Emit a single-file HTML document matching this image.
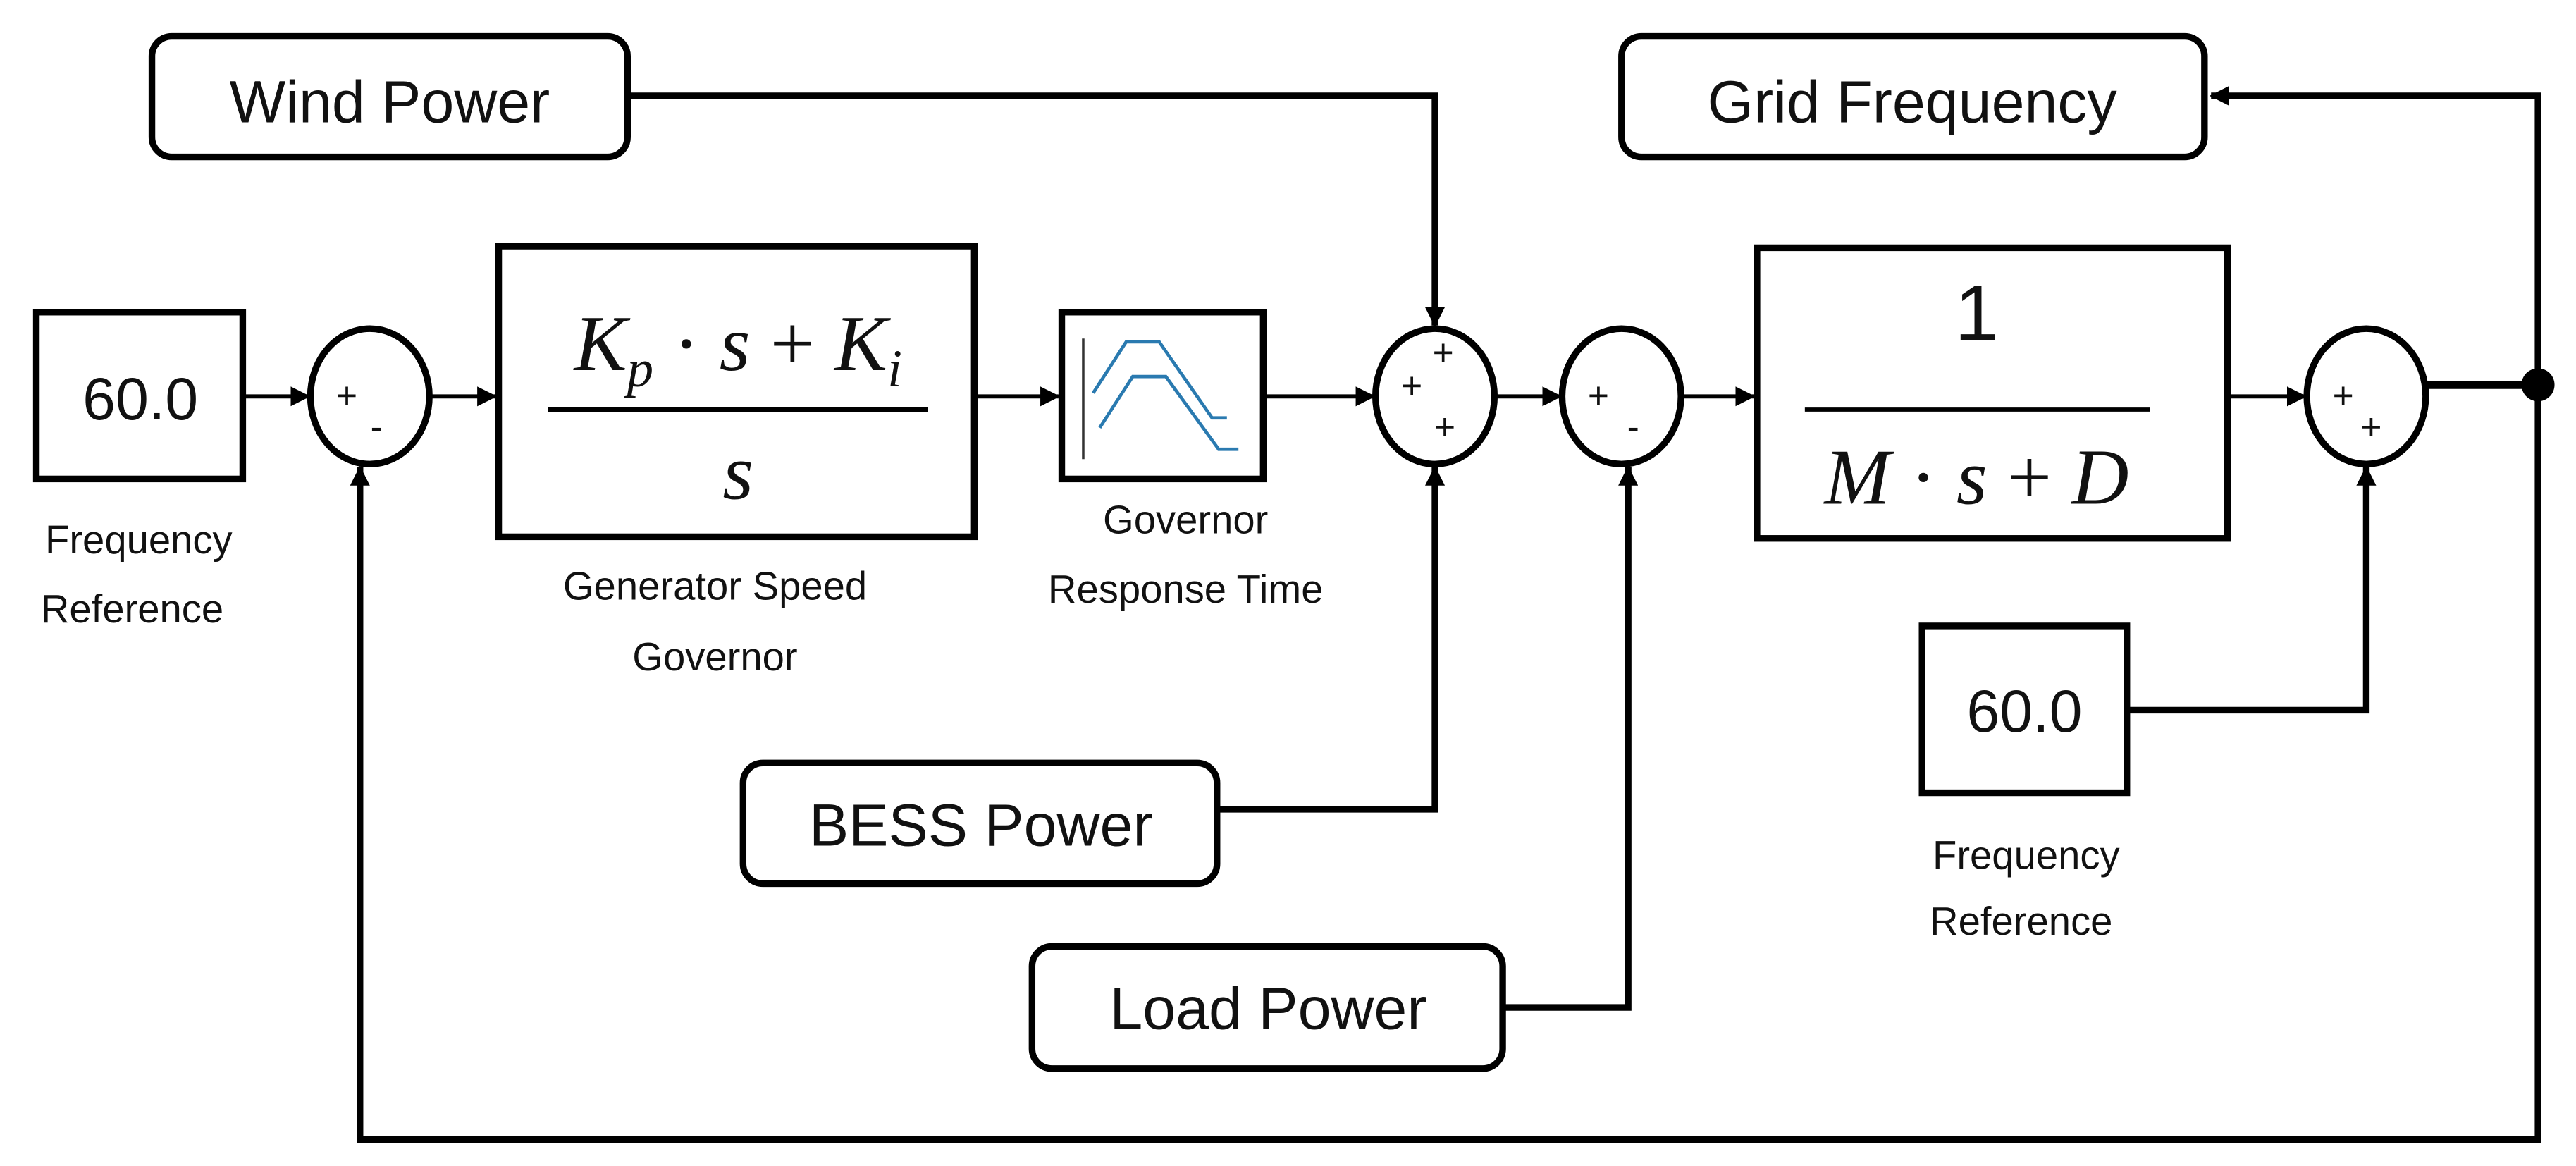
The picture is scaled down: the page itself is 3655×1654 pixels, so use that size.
<!DOCTYPE html>
<html><head><meta charset="utf-8"><style>
html,body{margin:0;padding:0;background:#fff;}
svg{display:block;}
text{font-family:"Liberation Sans",sans-serif;fill:#111;}
.m{font-family:"Liberation Serif",serif;font-style:italic;}
</style></head><body>
<svg width="3655" height="1654" viewBox="0 0 1560 706" preserveAspectRatio="none" xmlns="http://www.w3.org/2000/svg">
<defs>
<marker id="b" markerWidth="12" markerHeight="12" refX="11" refY="6" orient="auto" markerUnits="userSpaceOnUse">
<path d="M0,0 L12,6 L0,12 z" fill="#000"/></marker>
</defs>
<g fill="none" stroke="#000">
<rect x="92" y="22" width="288" height="73" rx="12" stroke-width="4"/>
<rect x="982" y="22" width="353" height="73" rx="12" stroke-width="4"/>
<rect x="450" y="462" width="287" height="73" rx="12" stroke-width="4"/>
<rect x="625" y="573" width="285" height="74" rx="12" stroke-width="4"/>
<rect x="22" y="189" width="125" height="101" stroke-width="4"/>
<rect x="302" y="149" width="288" height="176" stroke-width="4"/>
<rect x="643" y="189" width="122" height="101" stroke-width="4"/>
<rect x="1064" y="150" width="285" height="176" stroke-width="4"/>
<rect x="1164" y="379" width="124" height="101" stroke-width="4"/>
<ellipse cx="224" cy="240" rx="36" ry="41" stroke-width="4"/>
<ellipse cx="869" cy="240" rx="36" ry="41" stroke-width="4"/>
<ellipse cx="982" cy="240" rx="36" ry="41" stroke-width="4"/>
<ellipse cx="1433" cy="240" rx="36" ry="41" stroke-width="4"/>
<line x1="332" y1="248" x2="562" y2="248" stroke-width="3"/>
<line x1="1093" y1="248" x2="1302" y2="248" stroke-width="2.5"/>
<line x1="147" y1="240" x2="187" y2="240" stroke-width="2.5" marker-end="url(#b)"/>
<line x1="260" y1="240" x2="300" y2="240" stroke-width="2.5" marker-end="url(#b)"/>
<line x1="590" y1="240" x2="641" y2="240" stroke-width="2.5" marker-end="url(#b)"/>
<line x1="765" y1="240" x2="832" y2="240" stroke-width="2.5" marker-end="url(#b)"/>
<line x1="905" y1="240" x2="945" y2="240" stroke-width="2.5" marker-end="url(#b)"/>
<line x1="1018" y1="240" x2="1062" y2="240" stroke-width="2.5" marker-end="url(#b)"/>
<line x1="1349" y1="240" x2="1396" y2="240" stroke-width="2.5" marker-end="url(#b)"/>
<polyline points="380,58 869,58 869,197" stroke-width="4" marker-end="url(#b)"/>
<polyline points="737,490 869,490 869,283" stroke-width="4" marker-end="url(#b)"/>
<polyline points="910,610 986,610 986,283" stroke-width="4" marker-end="url(#b)"/>
<polyline points="1288,430 1433,430 1433,283" stroke-width="4" marker-end="url(#b)"/>
<line x1="1469" y1="233" x2="1537" y2="233" stroke-width="5"/>
<polyline points="1537,233 1537,58 1339,58" stroke-width="4" marker-end="url(#b)"/>
<polyline points="1537,233 1537,690 218,690 218,283" stroke-width="4" marker-end="url(#b)"/>
<line x1="656" y1="205" x2="656" y2="278" stroke="#333" stroke-width="1.5"/>
<polyline points="662,238 682,207 702,207 734,253 743,253" stroke="#2a7ab0" stroke-width="2"/>
<polyline points="666,259 686,228 706,228 738,272 750,272" stroke="#2a7ab0" stroke-width="2"/>
</g>
<circle cx="1537" cy="233" r="10" fill="#000"/>
<g font-size="36" text-anchor="middle">
<text x="236" y="74">Wind Power</text>
<text x="1158" y="74">Grid Frequency</text>
<text x="594" y="512">BESS Power</text>
<text x="768" y="623">Load Power</text>
<text x="85" y="254">60.0</text>
<text x="1226" y="443">60.0</text>
</g>
<g font-size="24" text-anchor="middle">
<text x="84" y="335">Frequency</text>
<text x="80" y="377">Reference</text>
<text x="1227" y="526">Frequency</text>
<text x="1224" y="566">Reference</text>
<text x="433" y="363">Generator Speed</text>
<text x="433" y="406">Governor</text>
<text x="718" y="323">Governor</text>
<text x="718" y="365">Response Time</text>
</g>
<g font-size="22" text-anchor="middle">
<text x="210" y="247">+</text><text x="228" y="266">-</text>
<text x="874" y="221">+</text><text x="855" y="241">+</text><text x="875" y="266">+</text>
<text x="968" y="247">+</text><text x="989" y="266">-</text>
<text x="1419" y="247">+</text><text x="1436" y="266">+</text>
</g>
<g font-size="48" text-anchor="middle">
<text x="447" y="224" class="m"><tspan>K</tspan><tspan font-size="32" dy="10">p</tspan><tspan dy="-10" font-style="normal"> · </tspan><tspan>s</tspan><tspan font-style="normal"> + </tspan><tspan>K</tspan><tspan font-size="32" dy="10">i</tspan></text>
<text x="447" y="302" class="m">s</text>
<text x="1197" y="206" font-family="Liberation Serif" font-style="normal">1</text>
<text x="1197" y="305" class="m"><tspan>M</tspan><tspan font-style="normal"> · </tspan><tspan>s</tspan><tspan font-style="normal"> + </tspan><tspan>D</tspan></text>
</g>
</svg>
</body></html>
